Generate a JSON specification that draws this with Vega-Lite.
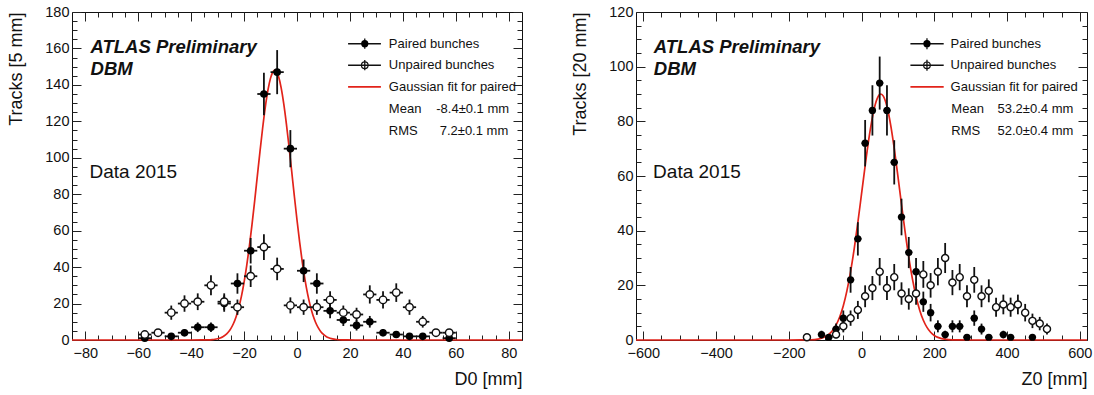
{
  "$schema": "https://vega.github.io/schema/vega-lite/v6.json",
  "background": "white",
  "padding": {"left": 7, "top": 3, "right": 0, "bottom": 0},
  "spacing": 114,
  "bounds": "flush",
  "config": {
    "font": "Liberation Sans",
    "view": {"stroke": "#111", "strokeWidth": 1},
    "axis": {"grid": false, "domain": false, "labelFont": "Liberation Sans", "labelFontSize": 14.5, "labelColor": "#111", "titleFont": "Liberation Sans", "titleFontSize": 18, "titleFontWeight": "normal", "titleColor": "#111", "tickColor": "#222", "tickWidth": 1, "labelOverlap": false, "labelFlush": false},
    "text": {"font": "Liberation Sans", "color": "#111"}
  },
  "datasets": {
    "d0_fit": [
      {"x": -85, "y": 0}, {"x": -40, "y": 0}, {"x": -36, "y": 0.02}, {"x": -34, "y": 0.08}, {"x": -32, "y": 0.25}, {"x": -31, "y": 0.42}, {"x": -30, "y": 0.7}, {"x": -29, "y": 1.13}, {"x": -28, "y": 1.8}, {"x": -27, "y": 2.79}, {"x": -26, "y": 4.23}, {"x": -25, "y": 6.26}, {"x": -24, "y": 9.06}, {"x": -23, "y": 12.81}, {"x": -22, "y": 17.71}, {"x": -21, "y": 23.93}, {"x": -20, "y": 31.59}, {"x": -19, "y": 40.76}, {"x": -18, "y": 51.38}, {"x": -17, "y": 63.31}, {"x": -16, "y": 76.26}, {"x": -15, "y": 89.77}, {"x": -14, "y": 103.26}, {"x": -13, "y": 116.07}, {"x": -12, "y": 127.55}, {"x": -11, "y": 136.94}, {"x": -10, "y": 143.71}, {"x": -9, "y": 147.39}, {"x": -8.4, "y": 148}, {"x": -8, "y": 147.73}, {"x": -7, "y": 144.71}, {"x": -6, "y": 138.53}, {"x": -5, "y": 129.6}, {"x": -4, "y": 118.51}, {"x": -3, "y": 105.91}, {"x": -2, "y": 92.49}, {"x": -1, "y": 78.94}, {"x": 0, "y": 65.85}, {"x": 1, "y": 53.68}, {"x": 2, "y": 42.77}, {"x": 3, "y": 33.3}, {"x": 4, "y": 25.34}, {"x": 5, "y": 18.84}, {"x": 6, "y": 13.69}, {"x": 7, "y": 9.73}, {"x": 8, "y": 6.75}, {"x": 9, "y": 4.58}, {"x": 10, "y": 3.04}, {"x": 11, "y": 1.97}, {"x": 12, "y": 1.25}, {"x": 13, "y": 0.77}, {"x": 14, "y": 0.47}, {"x": 15, "y": 0.28}, {"x": 17, "y": 0.09}, {"x": 19, "y": 0.03}, {"x": 22, "y": 0}, {"x": 85, "y": 0}
    ],
    "d0_paired": [
      {"x": -57.5, "y": 1, "lo": 0, "hi": 2, "xlo": -60, "xhi": -55},
      {"x": -47.5, "y": 2, "lo": 0.6, "hi": 3.4, "xlo": -50, "xhi": -45},
      {"x": -42.5, "y": 4, "lo": 2, "hi": 6, "xlo": -45, "xhi": -40},
      {"x": -37.5, "y": 7, "lo": 4.35, "hi": 9.65, "xlo": -40, "xhi": -35},
      {"x": -32.5, "y": 7, "lo": 4.35, "hi": 9.65, "xlo": -35, "xhi": -30},
      {"x": -27.5, "y": 20, "lo": 15.5, "hi": 24.5, "xlo": -30, "xhi": -25},
      {"x": -22.5, "y": 31, "lo": 25.4, "hi": 36.6, "xlo": -25, "xhi": -20},
      {"x": -17.5, "y": 49, "lo": 42, "hi": 56, "xlo": -20, "xhi": -15},
      {"x": -12.5, "y": 135, "lo": 123.4, "hi": 146.6, "xlo": -15, "xhi": -10},
      {"x": -7.5, "y": 147, "lo": 134.9, "hi": 159.1, "xlo": -10, "xhi": -5},
      {"x": -2.5, "y": 105, "lo": 94.8, "hi": 115.2, "xlo": -5, "xhi": 0},
      {"x": 2.5, "y": 38, "lo": 31.8, "hi": 44.2, "xlo": 0, "xhi": 5},
      {"x": 7.5, "y": 31, "lo": 25.4, "hi": 36.6, "xlo": 5, "xhi": 10},
      {"x": 12.5, "y": 16, "lo": 12, "hi": 20, "xlo": 10, "xhi": 15},
      {"x": 17.5, "y": 11, "lo": 7.7, "hi": 14.3, "xlo": 15, "xhi": 20},
      {"x": 22.5, "y": 8, "lo": 5.2, "hi": 10.8, "xlo": 20, "xhi": 25},
      {"x": 27.5, "y": 10, "lo": 6.8, "hi": 13.2, "xlo": 25, "xhi": 30},
      {"x": 32.5, "y": 4, "lo": 2, "hi": 6, "xlo": 30, "xhi": 35},
      {"x": 37.5, "y": 3, "lo": 1.3, "hi": 4.7, "xlo": 35, "xhi": 40},
      {"x": 42.5, "y": 2, "lo": 0.6, "hi": 3.4, "xlo": 40, "xhi": 45},
      {"x": 47.5, "y": 2, "lo": 0.6, "hi": 3.4, "xlo": 45, "xhi": 50},
      {"x": 57.5, "y": 1, "lo": 0, "hi": 2, "xlo": 55, "xhi": 60}
    ],
    "d0_unpaired": [
      {"x": -57.5, "y": 3, "lo": 1.3, "hi": 4.7, "xlo": -60, "xhi": -55},
      {"x": -52.5, "y": 4, "lo": 2, "hi": 6, "xlo": -55, "xhi": -50},
      {"x": -47.5, "y": 15, "lo": 11.1, "hi": 18.9, "xlo": -50, "xhi": -45},
      {"x": -42.5, "y": 20, "lo": 15.5, "hi": 24.5, "xlo": -45, "xhi": -40},
      {"x": -37.5, "y": 21, "lo": 16.4, "hi": 25.6, "xlo": -40, "xhi": -35},
      {"x": -32.5, "y": 30, "lo": 24.5, "hi": 35.5, "xlo": -35, "xhi": -30},
      {"x": -27.5, "y": 21, "lo": 16.4, "hi": 25.6, "xlo": -30, "xhi": -25},
      {"x": -22.5, "y": 18, "lo": 13.8, "hi": 22.2, "xlo": -25, "xhi": -20},
      {"x": -17.5, "y": 35, "lo": 29.1, "hi": 40.9, "xlo": -20, "xhi": -15},
      {"x": -12.5, "y": 51, "lo": 43.9, "hi": 58.1, "xlo": -15, "xhi": -10},
      {"x": -7.5, "y": 39, "lo": 32.8, "hi": 45.2, "xlo": -10, "xhi": -5},
      {"x": -2.5, "y": 19, "lo": 14.6, "hi": 23.4, "xlo": -5, "xhi": 0},
      {"x": 2.5, "y": 18, "lo": 13.8, "hi": 22.2, "xlo": 0, "xhi": 5},
      {"x": 7.5, "y": 18, "lo": 13.8, "hi": 22.2, "xlo": 5, "xhi": 10},
      {"x": 12.5, "y": 22, "lo": 17.3, "hi": 26.7, "xlo": 10, "xhi": 15},
      {"x": 17.5, "y": 15, "lo": 11.1, "hi": 18.9, "xlo": 15, "xhi": 20},
      {"x": 22.5, "y": 14, "lo": 10.3, "hi": 17.7, "xlo": 20, "xhi": 25},
      {"x": 27.5, "y": 25, "lo": 20, "hi": 30, "xlo": 25, "xhi": 30},
      {"x": 32.5, "y": 22, "lo": 17.3, "hi": 26.7, "xlo": 30, "xhi": 35},
      {"x": 37.5, "y": 26, "lo": 20.9, "hi": 31.1, "xlo": 35, "xhi": 40},
      {"x": 42.5, "y": 18, "lo": 13.8, "hi": 22.2, "xlo": 40, "xhi": 45},
      {"x": 47.5, "y": 10, "lo": 6.8, "hi": 13.2, "xlo": 45, "xhi": 50},
      {"x": 52.5, "y": 4, "lo": 2, "hi": 6, "xlo": 50, "xhi": 55},
      {"x": 57.5, "y": 4, "lo": 2, "hi": 6, "xlo": 55, "xhi": 60}
    ],
    "z0_fit": [
      {"x": -620, "y": 0}, {"x": -200, "y": 0}, {"x": -160, "y": 0.02}, {"x": -140, "y": 0.09}, {"x": -120, "y": 0.35}, {"x": -110, "y": 0.65}, {"x": -100, "y": 1.17}, {"x": -90, "y": 2.03}, {"x": -80, "y": 3.38}, {"x": -70, "y": 5.44}, {"x": -60, "y": 8.42}, {"x": -50, "y": 12.56}, {"x": -40, "y": 18.06}, {"x": -30, "y": 25.02}, {"x": -20, "y": 33.42}, {"x": -10, "y": 43}, {"x": 0, "y": 53.33}, {"x": 10, "y": 63.73}, {"x": 20, "y": 73.41}, {"x": 30, "y": 81.47}, {"x": 40, "y": 87.15}, {"x": 50, "y": 89.83}, {"x": 53.2, "y": 90}, {"x": 60, "y": 89.23}, {"x": 70, "y": 85.42}, {"x": 80, "y": 78.8}, {"x": 90, "y": 70.07}, {"x": 100, "y": 60.03}, {"x": 110, "y": 49.56}, {"x": 120, "y": 39.44}, {"x": 130, "y": 30.24}, {"x": 140, "y": 22.35}, {"x": 150, "y": 15.91}, {"x": 160, "y": 10.92}, {"x": 170, "y": 7.22}, {"x": 180, "y": 4.6}, {"x": 190, "y": 2.83}, {"x": 200, "y": 1.67}, {"x": 210, "y": 0.95}, {"x": 220, "y": 0.52}, {"x": 240, "y": 0.14}, {"x": 260, "y": 0.03}, {"x": 300, "y": 0}, {"x": 620, "y": 0}
    ],
    "z0_paired": [
      {"x": -110, "y": 2, "lo": 0.6, "hi": 3.4, "xlo": -120, "xhi": -100},
      {"x": -90, "y": 1, "lo": 0, "hi": 2, "xlo": -100, "xhi": -80},
      {"x": -70, "y": 4, "lo": 2, "hi": 6, "xlo": -80, "xhi": -60},
      {"x": -50, "y": 8, "lo": 5.2, "hi": 10.8, "xlo": -60, "xhi": -40},
      {"x": -30, "y": 22, "lo": 17.3, "hi": 26.7, "xlo": -40, "xhi": -20},
      {"x": -10, "y": 37, "lo": 30.9, "hi": 43.1, "xlo": -20, "xhi": 0},
      {"x": 10, "y": 72, "lo": 63.5, "hi": 80.5, "xlo": 0, "xhi": 20},
      {"x": 30, "y": 84, "lo": 74.8, "hi": 93.2, "xlo": 20, "xhi": 40},
      {"x": 50, "y": 94, "lo": 84.3, "hi": 103.7, "xlo": 40, "xhi": 60},
      {"x": 70, "y": 84, "lo": 74.8, "hi": 93.2, "xlo": 60, "xhi": 80},
      {"x": 90, "y": 65, "lo": 56.9, "hi": 73.1, "xlo": 80, "xhi": 100},
      {"x": 110, "y": 45, "lo": 38.3, "hi": 51.7, "xlo": 100, "xhi": 120},
      {"x": 130, "y": 32, "lo": 26.3, "hi": 37.7, "xlo": 120, "xhi": 140},
      {"x": 150, "y": 25, "lo": 20, "hi": 30, "xlo": 140, "xhi": 160},
      {"x": 170, "y": 14, "lo": 10.3, "hi": 17.7, "xlo": 160, "xhi": 180},
      {"x": 190, "y": 10, "lo": 6.8, "hi": 13.2, "xlo": 180, "xhi": 200},
      {"x": 210, "y": 5, "lo": 2.8, "hi": 7.2, "xlo": 200, "xhi": 220},
      {"x": 230, "y": 2, "lo": 0.6, "hi": 3.4, "xlo": 220, "xhi": 240},
      {"x": 250, "y": 5, "lo": 2.8, "hi": 7.2, "xlo": 240, "xhi": 260},
      {"x": 270, "y": 5, "lo": 2.8, "hi": 7.2, "xlo": 260, "xhi": 280},
      {"x": 290, "y": 1, "lo": 0, "hi": 2, "xlo": 280, "xhi": 300},
      {"x": 310, "y": 8, "lo": 5.2, "hi": 10.8, "xlo": 300, "xhi": 320},
      {"x": 330, "y": 4, "lo": 2, "hi": 6, "xlo": 320, "xhi": 340},
      {"x": 350, "y": 1, "lo": 0, "hi": 2, "xlo": 340, "xhi": 360},
      {"x": 390, "y": 2, "lo": 0.6, "hi": 3.4, "xlo": 380, "xhi": 400},
      {"x": 410, "y": 1, "lo": 0, "hi": 2, "xlo": 400, "xhi": 420},
      {"x": 470, "y": 1, "lo": 0, "hi": 2, "xlo": 460, "xhi": 480}
    ],
    "z0_unpaired": [
      {"x": -150, "y": 1, "lo": 0, "hi": 2, "xlo": -160, "xhi": -140},
      {"x": -70, "y": 2, "lo": 0.6, "hi": 3.4, "xlo": -80, "xhi": -60},
      {"x": -50, "y": 5, "lo": 2.8, "hi": 7.2, "xlo": -60, "xhi": -40},
      {"x": -30, "y": 8, "lo": 5.2, "hi": 10.8, "xlo": -40, "xhi": -20},
      {"x": -10, "y": 11, "lo": 7.7, "hi": 14.3, "xlo": -20, "xhi": 0},
      {"x": 10, "y": 16, "lo": 12, "hi": 20, "xlo": 0, "xhi": 20},
      {"x": 30, "y": 19, "lo": 14.6, "hi": 23.4, "xlo": 20, "xhi": 40},
      {"x": 50, "y": 25, "lo": 20, "hi": 30, "xlo": 40, "xhi": 60},
      {"x": 70, "y": 19, "lo": 14.6, "hi": 23.4, "xlo": 60, "xhi": 80},
      {"x": 90, "y": 23, "lo": 18.2, "hi": 27.8, "xlo": 80, "xhi": 100},
      {"x": 110, "y": 17, "lo": 12.9, "hi": 21.1, "xlo": 100, "xhi": 120},
      {"x": 130, "y": 15, "lo": 11.1, "hi": 18.9, "xlo": 120, "xhi": 140},
      {"x": 150, "y": 17, "lo": 12.9, "hi": 21.1, "xlo": 140, "xhi": 160},
      {"x": 170, "y": 24, "lo": 19.1, "hi": 28.9, "xlo": 160, "xhi": 180},
      {"x": 190, "y": 20, "lo": 15.5, "hi": 24.5, "xlo": 180, "xhi": 200},
      {"x": 210, "y": 25, "lo": 20, "hi": 30, "xlo": 200, "xhi": 220},
      {"x": 230, "y": 30, "lo": 24.5, "hi": 35.5, "xlo": 220, "xhi": 240},
      {"x": 250, "y": 21, "lo": 16.4, "hi": 25.6, "xlo": 240, "xhi": 260},
      {"x": 270, "y": 23, "lo": 18.2, "hi": 27.8, "xlo": 260, "xhi": 280},
      {"x": 290, "y": 16, "lo": 12, "hi": 20, "xlo": 280, "xhi": 300},
      {"x": 310, "y": 22, "lo": 17.3, "hi": 26.7, "xlo": 300, "xhi": 320},
      {"x": 330, "y": 16, "lo": 12, "hi": 20, "xlo": 320, "xhi": 340},
      {"x": 350, "y": 18, "lo": 13.8, "hi": 22.2, "xlo": 340, "xhi": 360},
      {"x": 370, "y": 12, "lo": 8.5, "hi": 15.5, "xlo": 360, "xhi": 380},
      {"x": 390, "y": 13, "lo": 9.4, "hi": 16.6, "xlo": 380, "xhi": 400},
      {"x": 410, "y": 12, "lo": 8.5, "hi": 15.5, "xlo": 400, "xhi": 420},
      {"x": 430, "y": 13, "lo": 9.4, "hi": 16.6, "xlo": 420, "xhi": 440},
      {"x": 450, "y": 10, "lo": 6.8, "hi": 13.2, "xlo": 440, "xhi": 460},
      {"x": 470, "y": 7, "lo": 4.35, "hi": 9.65, "xlo": 460, "xhi": 480},
      {"x": 490, "y": 6, "lo": 3.55, "hi": 8.45, "xlo": 480, "xhi": 500},
      {"x": 510, "y": 4, "lo": 2, "hi": 6, "xlo": 500, "xhi": 520}
    ]
  },
  "hconcat": [
    {
      "width": 450,
      "height": 328,
      "resolve": {"axis": {"x": "independent", "y": "independent"}},
      "layer": [
        {
          "data": {"name": "d0_fit"},
          "mark": {"type": "line", "color": "#e2231a", "strokeWidth": 1.7, "interpolate": "monotone"},
          "encoding": {
            "x": {"field": "x", "type": "quantitative", "scale": {"domain": [-85, 85], "nice": false, "zero": false},
              "axis": {"orient": "bottom", "title": "D0 [mm]", "titleAnchor": "end", "titleAlign": "right", "titlePadding": 7,
                "values": [-80,-75,-70,-65,-60,-55,-50,-45,-40,-35,-30,-25,-20,-15,-10,-5,0,5,10,15,20,25,30,35,40,45,50,55,60,65,70,75,80],
                "tickSize": {"condition": {"test": "datum.value % 20 === 0", "value": -9}, "value": -5},
                "labelExpr": "datum.value % 20 === 0 ? datum.label : ''", "labelPadding": 15}},
            "y": {"field": "y", "type": "quantitative", "scale": {"domain": [0, 180], "nice": false, "zero": false},
              "axis": {"orient": "left", "title": "Tracks [5 mm]", "titleAnchor": "end", "titleAlign": "right", "titlePadding": 19,
                "values": [0,5,10,15,20,25,30,35,40,45,50,55,60,65,70,75,80,85,90,95,100,105,110,115,120,125,130,135,140,145,150,155,160,165,170,175,180],
                "tickSize": {"condition": {"test": "datum.value % 20 === 0", "value": -9}, "value": -5},
                "labelExpr": "datum.value % 20 === 0 ? datum.label : ''", "labelPadding": 12}}
          }
        },
        {
          "data": {"name": "d0_paired"},
          "mark": {"type": "rule", "color": "#111", "strokeWidth": 1.8},
          "encoding": {
            "x": {"field": "x", "type": "quantitative", "scale": {"domain": [-85, 85], "nice": false, "zero": false},
              "axis": {"orient": "top", "title": null, "labels": false,
                "values": [-80,-75,-70,-65,-60,-55,-50,-45,-40,-35,-30,-25,-20,-15,-10,-5,0,5,10,15,20,25,30,35,40,45,50,55,60,65,70,75,80],
                "tickSize": {"condition": {"test": "datum.value % 20 === 0", "value": -9}, "value": -5}}},
            "y": {"field": "lo", "type": "quantitative", "scale": {"domain": [0, 180], "nice": false, "zero": false},
              "axis": {"orient": "right", "title": null, "labels": false,
                "values": [0,5,10,15,20,25,30,35,40,45,50,55,60,65,70,75,80,85,90,95,100,105,110,115,120,125,130,135,140,145,150,155,160,165,170,175,180],
                "tickSize": {"condition": {"test": "datum.value % 20 === 0", "value": -9}, "value": -5}}},
            "y2": {"field": "hi"}
          }
        },
        {
          "data": {"name": "d0_paired"},
          "mark": {"type": "rule", "color": "#111", "strokeWidth": 1.8},
          "encoding": {
            "x": {"field": "xlo", "type": "quantitative", "scale": {"domain": [-85, 85], "nice": false, "zero": false}, "axis": null},
            "x2": {"field": "xhi"},
            "y": {"field": "y", "type": "quantitative", "scale": {"domain": [0, 180], "nice": false, "zero": false}, "axis": null}
          }
        },
        {
          "data": {"name": "d0_unpaired"},
          "mark": {"type": "rule", "color": "#111", "strokeWidth": 1.8},
          "encoding": {
            "x": {"field": "x", "type": "quantitative", "scale": {"domain": [-85, 85], "nice": false, "zero": false}, "axis": null},
            "y": {"field": "lo", "type": "quantitative", "scale": {"domain": [0, 180], "nice": false, "zero": false}, "axis": null},
            "y2": {"field": "hi"}
          }
        },
        {
          "data": {"name": "d0_unpaired"},
          "mark": {"type": "rule", "color": "#111", "strokeWidth": 1.8},
          "encoding": {
            "x": {"field": "xlo", "type": "quantitative", "scale": {"domain": [-85, 85], "nice": false, "zero": false}, "axis": null},
            "x2": {"field": "xhi"},
            "y": {"field": "y", "type": "quantitative", "scale": {"domain": [0, 180], "nice": false, "zero": false}, "axis": null}
          }
        },
        {
          "data": {"name": "d0_paired"},
          "mark": {"type": "point", "shape": "circle", "filled": true, "color": "#000", "size": 58, "opacity": 1},
          "encoding": {
            "x": {"field": "x", "type": "quantitative", "scale": {"domain": [-85, 85], "nice": false, "zero": false}, "axis": null},
            "y": {"field": "y", "type": "quantitative", "scale": {"domain": [0, 180], "nice": false, "zero": false}, "axis": null}
          }
        },
        {
          "data": {"name": "d0_unpaired"},
          "mark": {"type": "point", "shape": "circle", "filled": false, "fill": "white", "stroke": "#111", "strokeWidth": 1.4, "size": 56, "opacity": 1},
          "encoding": {
            "x": {"field": "x", "type": "quantitative", "scale": {"domain": [-85, 85], "nice": false, "zero": false}, "axis": null},
            "y": {"field": "y", "type": "quantitative", "scale": {"domain": [0, 180], "nice": false, "zero": false}, "axis": null}
          }
        },
        {
          "data": {"values": [{"x1": 19.3, "x2": 31.7, "y": 162.6}, {"x1": 19.3, "x2": 31.7, "y": 150.8}]},
          "mark": {"type": "rule", "color": "#111", "strokeWidth": 1.6},
          "encoding": {
            "x": {"field": "x1", "type": "quantitative", "scale": {"domain": [-85, 85], "nice": false, "zero": false}, "axis": null},
            "x2": {"field": "x2"},
            "y": {"field": "y", "type": "quantitative", "scale": {"domain": [0, 180], "nice": false, "zero": false}, "axis": null}
          }
        },
        {
          "data": {"values": [{"x": 25.6, "y1": 159.9, "y2": 165.4}, {"x": 25.6, "y1": 148.0, "y2": 153.6}]},
          "mark": {"type": "rule", "color": "#111", "strokeWidth": 1.3},
          "encoding": {
            "x": {"field": "x", "type": "quantitative", "scale": {"domain": [-85, 85], "nice": false, "zero": false}, "axis": null},
            "y": {"field": "y1", "type": "quantitative", "scale": {"domain": [0, 180], "nice": false, "zero": false}, "axis": null},
            "y2": {"field": "y2"}
          }
        },
        {
          "data": {"values": [{"x1": 19.3, "x2": 31.7, "y": 138.9}]},
          "mark": {"type": "rule", "color": "#e2231a", "strokeWidth": 1.7},
          "encoding": {
            "x": {"field": "x1", "type": "quantitative", "scale": {"domain": [-85, 85], "nice": false, "zero": false}, "axis": null},
            "x2": {"field": "x2"},
            "y": {"field": "y", "type": "quantitative", "scale": {"domain": [0, 180], "nice": false, "zero": false}, "axis": null}
          }
        },
        {
          "data": {"values": [{"x": 25.6, "y": 162.6}]},
          "mark": {"type": "point", "shape": "circle", "filled": true, "color": "#000", "size": 52, "opacity": 1},
          "encoding": {
            "x": {"field": "x", "type": "quantitative", "scale": {"domain": [-85, 85], "nice": false, "zero": false}, "axis": null},
            "y": {"field": "y", "type": "quantitative", "scale": {"domain": [0, 180], "nice": false, "zero": false}, "axis": null}
          }
        },
        {
          "data": {"values": [{"x": 25.6, "y": 150.8}]},
          "mark": {"type": "point", "shape": "circle", "filled": false, "stroke": "#111", "strokeWidth": 1.2, "size": 44, "opacity": 1},
          "encoding": {
            "x": {"field": "x", "type": "quantitative", "scale": {"domain": [-85, 85], "nice": false, "zero": false}, "axis": null},
            "y": {"field": "y", "type": "quantitative", "scale": {"domain": [0, 180], "nice": false, "zero": false}, "axis": null}
          }
        },
        {
          "data": {"values": [
            {"x": 34.7, "y": 162.6, "t": "Paired bunches"},
            {"x": 34.7, "y": 150.8, "t": "Unpaired bunches"},
            {"x": 34.7, "y": 138.9, "t": "Gaussian fit for paired"},
            {"x": 34.7, "y": 126.6, "t": "Mean"},
            {"x": 34.7, "y": 114.6, "t": "RMS"},
            {"x": 52.6, "y": 126.6, "t": "-8.4±0.1 mm"},
            {"x": 53.9, "y": 114.6, "t": "7.2±0.1 mm"}
          ]},
          "mark": {"type": "text", "align": "left", "baseline": "middle", "fontSize": 13, "font": "Liberation Sans", "color": "#111"},
          "encoding": {
            "x": {"field": "x", "type": "quantitative", "scale": {"domain": [-85, 85], "nice": false, "zero": false}, "axis": null},
            "y": {"field": "y", "type": "quantitative", "scale": {"domain": [0, 180], "nice": false, "zero": false}, "axis": null},
            "text": {"field": "t"}
          }
        },
        {
          "data": {"values": [
            {"x": -78, "y": 160.8, "t": "ATLAS Preliminary"},
            {"x": -78, "y": 148.9, "t": "DBM"}
          ]},
          "mark": {"type": "text", "align": "left", "baseline": "middle", "fontSize": 18.5, "fontWeight": "bold", "fontStyle": "italic", "font": "Liberation Sans", "color": "#111"},
          "encoding": {
            "x": {"field": "x", "type": "quantitative", "scale": {"domain": [-85, 85], "nice": false, "zero": false}, "axis": null},
            "y": {"field": "y", "type": "quantitative", "scale": {"domain": [0, 180], "nice": false, "zero": false}, "axis": null},
            "text": {"field": "t"}
          }
        },
        {
          "data": {"values": [{"x": -78.4, "y": 92.3, "t": "Data 2015"}]},
          "mark": {"type": "text", "align": "left", "baseline": "middle", "fontSize": 19, "font": "Liberation Sans", "color": "#111"},
          "encoding": {
            "x": {"field": "x", "type": "quantitative", "scale": {"domain": [-85, 85], "nice": false, "zero": false}, "axis": null},
            "y": {"field": "y", "type": "quantitative", "scale": {"domain": [0, 180], "nice": false, "zero": false}, "axis": null},
            "text": {"field": "t"}
          }
        }
      ]
    },
    {
      "width": 451,
      "height": 328,
      "resolve": {"axis": {"x": "independent", "y": "independent"}},
      "layer": [
        {
          "data": {"name": "z0_fit"},
          "mark": {"type": "line", "color": "#e2231a", "strokeWidth": 1.7, "interpolate": "monotone"},
          "encoding": {
            "x": {"field": "x", "type": "quantitative", "scale": {"domain": [-620, 620], "nice": false, "zero": false},
              "axis": {"orient": "bottom", "title": "Z0 [mm]", "titleAnchor": "end", "titleAlign": "right", "titlePadding": 7,
                "values": [-600,-550,-500,-450,-400,-350,-300,-250,-200,-150,-100,-50,0,50,100,150,200,250,300,350,400,450,500,550,600],
                "tickSize": {"condition": {"test": "datum.value % 200 === 0", "value": -9}, "value": -5},
                "labelExpr": "datum.value % 200 === 0 ? datum.label : ''", "labelPadding": 15}},
            "y": {"field": "y", "type": "quantitative", "scale": {"domain": [0, 120], "nice": false, "zero": false},
              "axis": {"orient": "left", "title": "Tracks [20 mm]", "titleAnchor": "end", "titleAlign": "right", "titlePadding": 19,
                "values": [0,5,10,15,20,25,30,35,40,45,50,55,60,65,70,75,80,85,90,95,100,105,110,115,120],
                "tickSize": {"condition": {"test": "datum.value % 20 === 0", "value": -9}, "value": -5},
                "labelExpr": "datum.value % 20 === 0 ? datum.label : ''", "labelPadding": 12}}
          }
        },
        {
          "data": {"name": "z0_paired"},
          "mark": {"type": "rule", "color": "#111", "strokeWidth": 1.8},
          "encoding": {
            "x": {"field": "x", "type": "quantitative", "scale": {"domain": [-620, 620], "nice": false, "zero": false},
              "axis": {"orient": "top", "title": null, "labels": false,
                "values": [-600,-550,-500,-450,-400,-350,-300,-250,-200,-150,-100,-50,0,50,100,150,200,250,300,350,400,450,500,550,600],
                "tickSize": {"condition": {"test": "datum.value % 200 === 0", "value": -9}, "value": -5}}},
            "y": {"field": "lo", "type": "quantitative", "scale": {"domain": [0, 120], "nice": false, "zero": false},
              "axis": {"orient": "right", "title": null, "labels": false,
                "values": [0,5,10,15,20,25,30,35,40,45,50,55,60,65,70,75,80,85,90,95,100,105,110,115,120],
                "tickSize": {"condition": {"test": "datum.value % 20 === 0", "value": -9}, "value": -5}}},
            "y2": {"field": "hi"}
          }
        },
        {
          "data": {"name": "z0_paired"},
          "mark": {"type": "rule", "color": "#111", "strokeWidth": 1.8},
          "encoding": {
            "x": {"field": "xlo", "type": "quantitative", "scale": {"domain": [-620, 620], "nice": false, "zero": false}, "axis": null},
            "x2": {"field": "xhi"},
            "y": {"field": "y", "type": "quantitative", "scale": {"domain": [0, 120], "nice": false, "zero": false}, "axis": null}
          }
        },
        {
          "data": {"name": "z0_unpaired"},
          "mark": {"type": "rule", "color": "#111", "strokeWidth": 1.8},
          "encoding": {
            "x": {"field": "x", "type": "quantitative", "scale": {"domain": [-620, 620], "nice": false, "zero": false}, "axis": null},
            "y": {"field": "lo", "type": "quantitative", "scale": {"domain": [0, 120], "nice": false, "zero": false}, "axis": null},
            "y2": {"field": "hi"}
          }
        },
        {
          "data": {"name": "z0_unpaired"},
          "mark": {"type": "rule", "color": "#111", "strokeWidth": 1.8},
          "encoding": {
            "x": {"field": "xlo", "type": "quantitative", "scale": {"domain": [-620, 620], "nice": false, "zero": false}, "axis": null},
            "x2": {"field": "xhi"},
            "y": {"field": "y", "type": "quantitative", "scale": {"domain": [0, 120], "nice": false, "zero": false}, "axis": null}
          }
        },
        {
          "data": {"name": "z0_paired"},
          "mark": {"type": "point", "shape": "circle", "filled": true, "color": "#000", "size": 52, "opacity": 1},
          "encoding": {
            "x": {"field": "x", "type": "quantitative", "scale": {"domain": [-620, 620], "nice": false, "zero": false}, "axis": null},
            "y": {"field": "y", "type": "quantitative", "scale": {"domain": [0, 120], "nice": false, "zero": false}, "axis": null}
          }
        },
        {
          "data": {"name": "z0_unpaired"},
          "mark": {"type": "point", "shape": "circle", "filled": false, "fill": "white", "stroke": "#111", "strokeWidth": 1.4, "size": 50, "opacity": 1},
          "encoding": {
            "x": {"field": "x", "type": "quantitative", "scale": {"domain": [-620, 620], "nice": false, "zero": false}, "axis": null},
            "y": {"field": "y", "type": "quantitative", "scale": {"domain": [0, 120], "nice": false, "zero": false}, "axis": null}
          }
        },
        {
          "data": {"values": [{"x1": 134.5, "x2": 226, "y": 108.4}, {"x1": 134.5, "x2": 226, "y": 100.5}]},
          "mark": {"type": "rule", "color": "#111", "strokeWidth": 1.6},
          "encoding": {
            "x": {"field": "x1", "type": "quantitative", "scale": {"domain": [-620, 620], "nice": false, "zero": false}, "axis": null},
            "x2": {"field": "x2"},
            "y": {"field": "y", "type": "quantitative", "scale": {"domain": [0, 120], "nice": false, "zero": false}, "axis": null}
          }
        },
        {
          "data": {"values": [{"x": 180, "y1": 106.4, "y2": 110.4}, {"x": 180, "y1": 98.5, "y2": 102.5}]},
          "mark": {"type": "rule", "color": "#111", "strokeWidth": 1.3},
          "encoding": {
            "x": {"field": "x", "type": "quantitative", "scale": {"domain": [-620, 620], "nice": false, "zero": false}, "axis": null},
            "y": {"field": "y1", "type": "quantitative", "scale": {"domain": [0, 120], "nice": false, "zero": false}, "axis": null},
            "y2": {"field": "y2"}
          }
        },
        {
          "data": {"values": [{"x1": 134.5, "x2": 226, "y": 92.6}]},
          "mark": {"type": "rule", "color": "#e2231a", "strokeWidth": 1.7},
          "encoding": {
            "x": {"field": "x1", "type": "quantitative", "scale": {"domain": [-620, 620], "nice": false, "zero": false}, "axis": null},
            "x2": {"field": "x2"},
            "y": {"field": "y", "type": "quantitative", "scale": {"domain": [0, 120], "nice": false, "zero": false}, "axis": null}
          }
        },
        {
          "data": {"values": [{"x": 180, "y": 108.4}]},
          "mark": {"type": "point", "shape": "circle", "filled": true, "color": "#000", "size": 52, "opacity": 1},
          "encoding": {
            "x": {"field": "x", "type": "quantitative", "scale": {"domain": [-620, 620], "nice": false, "zero": false}, "axis": null},
            "y": {"field": "y", "type": "quantitative", "scale": {"domain": [0, 120], "nice": false, "zero": false}, "axis": null}
          }
        },
        {
          "data": {"values": [{"x": 180, "y": 100.5}]},
          "mark": {"type": "point", "shape": "circle", "filled": false, "stroke": "#111", "strokeWidth": 1.2, "size": 44, "opacity": 1},
          "encoding": {
            "x": {"field": "x", "type": "quantitative", "scale": {"domain": [-620, 620], "nice": false, "zero": false}, "axis": null},
            "y": {"field": "y", "type": "quantitative", "scale": {"domain": [0, 120], "nice": false, "zero": false}, "axis": null}
          }
        },
        {
          "data": {"values": [
            {"x": 245, "y": 108.4, "t": "Paired bunches"},
            {"x": 245, "y": 100.5, "t": "Unpaired bunches"},
            {"x": 245, "y": 92.6, "t": "Gaussian fit for paired"},
            {"x": 247, "y": 84.4, "t": "Mean"},
            {"x": 247, "y": 76.4, "t": "RMS"},
            {"x": 374, "y": 84.4, "t": "53.2±0.4 mm"},
            {"x": 374, "y": 76.4, "t": "52.0±0.4 mm"}
          ]},
          "mark": {"type": "text", "align": "left", "baseline": "middle", "fontSize": 13, "font": "Liberation Sans", "color": "#111"},
          "encoding": {
            "x": {"field": "x", "type": "quantitative", "scale": {"domain": [-620, 620], "nice": false, "zero": false}, "axis": null},
            "y": {"field": "y", "type": "quantitative", "scale": {"domain": [0, 120], "nice": false, "zero": false}, "axis": null},
            "text": {"field": "t"}
          }
        },
        {
          "data": {"values": [
            {"x": -571, "y": 107.2, "t": "ATLAS Preliminary"},
            {"x": -571, "y": 99.3, "t": "DBM"}
          ]},
          "mark": {"type": "text", "align": "left", "baseline": "middle", "fontSize": 18.5, "fontWeight": "bold", "fontStyle": "italic", "font": "Liberation Sans", "color": "#111"},
          "encoding": {
            "x": {"field": "x", "type": "quantitative", "scale": {"domain": [-620, 620], "nice": false, "zero": false}, "axis": null},
            "y": {"field": "y", "type": "quantitative", "scale": {"domain": [0, 120], "nice": false, "zero": false}, "axis": null},
            "text": {"field": "t"}
          }
        },
        {
          "data": {"values": [{"x": -573, "y": 61.5, "t": "Data 2015"}]},
          "mark": {"type": "text", "align": "left", "baseline": "middle", "fontSize": 19, "font": "Liberation Sans", "color": "#111"},
          "encoding": {
            "x": {"field": "x", "type": "quantitative", "scale": {"domain": [-620, 620], "nice": false, "zero": false}, "axis": null},
            "y": {"field": "y", "type": "quantitative", "scale": {"domain": [0, 120], "nice": false, "zero": false}, "axis": null},
            "text": {"field": "t"}
          }
        }
      ]
    }
  ]
}
